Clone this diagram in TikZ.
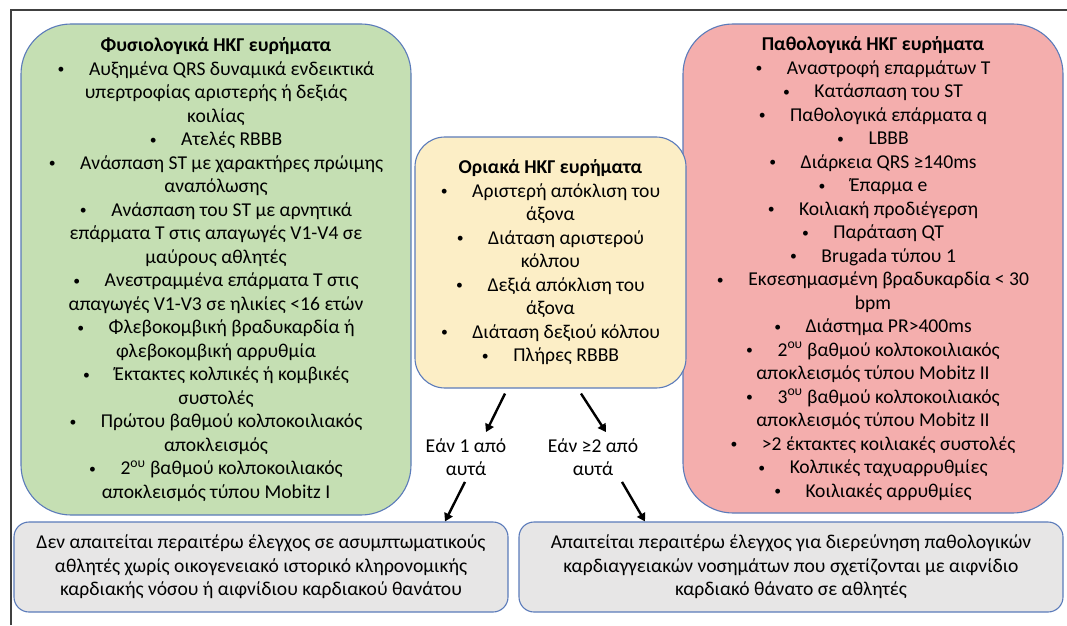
\documentclass[tikz,border=0pt]{standalone}
\usepackage{fontspec}
\setmainfont{Carlito}
\usepackage{xcolor}
\usetikzlibrary{arrows.meta, positioning}

\definecolor{edge}{HTML}{5B7BBA}
\definecolor{physfill}{HTML}{C5DFB3}
\definecolor{orifill}{HTML}{FCEEC6}
\definecolor{pathfill}{HTML}{F4AEAD}
\definecolor{resfill}{HTML}{E7E6E6}

\newcommand{\itm}{\raisebox{1.6pt}{\scalebox{0.7}{\textbullet}}\hspace{1.25em}}

\begin{document}
\begin{tikzpicture}[
    x=1pt, y=1pt,
    every node/.style={
        align=center,
        font=\fontsize{19.6}{23.5}\selectfont
    },
    findings/.style={draw=edge, line width=1.1pt, rounded corners=50pt},
    physio/.style={findings, fill=physfill, minimum width=390pt, minimum height=491pt},
    patho/.style={findings, fill=pathfill, minimum width=380pt, minimum height=489pt},
    borderline/.style={findings, fill=orifill, rounded corners=30pt, minimum width=271pt, minimum height=251pt},
    result/.style={draw=edge, line width=1.1pt, rounded corners=15pt, fill=resfill, minimum height=90pt},
    cond/.style={inner sep=0pt},
    go/.style={-{Triangle[width=9pt,length=8pt]}, line width=2.4pt}
]
\useasboundingbox (0,0) rectangle (1067,625);

% frame
\draw[line width=1.6pt, black!75] (11,0) -- (11,615) -- (1067,615);

% the three groups of findings
\node[physio] (physio) at (216,355.5) {\textbf{Φυσιολογικά ΗΚΓ ευρήματα}\\
    \itm Αυξημένα QRS δυναμικά ενδεικτικά\\
    υπερτροφίας αριστερής ή δεξιάς\\
    κοιλίας\\
    \itm Ατελές RBBB\\
    \itm Ανάσπαση ST με χαρακτήρες πρώιμης\\
    αναπόλωσης\\
    \itm Ανάσπαση του ST με αρνητικά\\
    επάρματα T στις απαγωγές V1-V4 σε\\
    μαύρους αθλητές\\
    \itm Ανεστραμμένα επάρματα T στις\\
    απαγωγές V1-V3 σε ηλικίες <16 ετών\\
    \itm Φλεβοκομβική βραδυκαρδία ή\\
    φλεβοκομβική αρρυθμία\\
    \itm Έκτακτες κολπικές ή κομβικές\\
    συστολές\\
    \itm Πρώτου βαθμού κολποκοιλιακός\\
    αποκλεισμός\\
    \itm 2\textsuperscript{ου} βαθμού κολποκοιλιακός\\
    αποκλεισμός τύπου Mobitz I};

\node[patho] (patho) at (873,356.5) {\textbf{Παθολογικά ΗΚΓ ευρήματα}\\
    \itm Αναστροφή επαρμάτων T\\
    \itm Κατάσπαση του ST\\
    \itm Παθολογικά επάρματα q\\
    \itm LBBB\\
    \itm Διάρκεια QRS ≥140ms\\
    \itm Έπαρμα e\\
    \itm Κοιλιακή προδιέγερση\\
    \itm Παράταση QT\\
    \itm Brugada τύπου 1\\
    \itm Εκσεσημασμένη βραδυκαρδία < 30\\
    bpm\\
    \itm Διάστημα PR>400ms\\
    \itm 2\textsuperscript{ου} βαθμού κολποκοιλιακός\\
    αποκλεισμός τύπου Mobitz II\\
    \itm 3\textsuperscript{ου} βαθμού κολποκοιλιακός\\
    αποκλεισμός τύπου Mobitz II\\
    \itm >2 έκτακτες κοιλιακές συστολές\\
    \itm Κολπικές ταχυαρρυθμίες\\
    \itm Κοιλιακές αρρυθμίες};

\node[borderline] (orio) at (550.5,362.5) {\textbf{Οριακά ΗΚΓ ευρήματα}\\
    \itm Αριστερή απόκλιση του\\
    άξονα\\
    \itm Διάταση αριστερού\\
    κόλπου\\
    \itm Δεξιά απόκλιση του\\
    άξονα\\
    \itm Διάταση δεξιού κόλπου\\
    \itm Πλήρες RBBB};

% outcomes
\node[result, minimum width=494pt] (nocheck) at (261,58) {Δεν απαιτείται περαιτέρω έλεγχος σε ασυμπτωματικούς\\
    αθλητές χωρίς οικογενειακό ιστορικό κληρονομικής\\
    καρδιακής νόσου ή αιφνίδιου καρδιακού θανάτου};
\node[result, minimum width=544pt] (check) at (791,58) {Απαιτείται περαιτέρω έλεγχος για διερεύνηση παθολογικών\\
    καρδιαγγειακών νοσημάτων που σχετίζονται με αιφνίδιο\\
    καρδιακό θάνατο σε αθλητές};

\node[cond] (one) at (466,168) {Εάν 1 από\\αυτά};
\node[cond] (many) at (593,168) {Εάν ≥2 από\\αυτά};

\draw[go] ([shift={(-45.5,-5)}]orio.south) -- ([shift={(20,6)}]one.north);
\draw[go] ([shift={(30.5,-5)}]orio.south) -- ([shift={(13,6)}]many.north);
\draw[go] ([shift={(-1,-6)}]one.south) -- ([shift={(184,0)}]nocheck.north);
\draw[go] ([shift={(29,-6)}]many.south) -- ([shift={(-146,0)}]check.north);

\end{tikzpicture}
\end{document}
